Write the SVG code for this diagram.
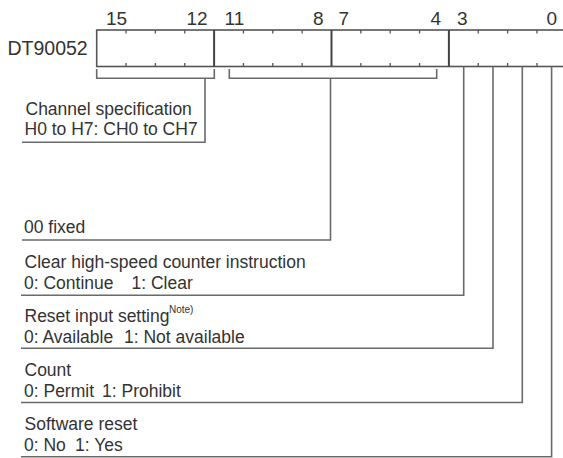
<svg xmlns="http://www.w3.org/2000/svg" width="563" height="458" viewBox="0 0 563 458">
<style>
text{font-family:"Liberation Sans",Arial,Helvetica,sans-serif;fill:#333}
.t{font-size:17.5px}
.b{font-size:19px}
.n{font-size:10px}
.box{fill:none;stroke:#555;stroke-width:1.6}
.div{stroke:#444;stroke-width:2}
.tick{stroke:#555;stroke-width:1.3}
.c{fill:none;stroke:#6a6a6a;stroke-width:1.6}
</style>
<rect width="563" height="458" fill="#fff"/>
<g id="register">
<text x="7.5" y="54.5" style="font-size:19.5px">DT90052</text>
<text class="b" x="106" y="25">15</text>
<text class="b" x="186.5" y="25">12</text>
<text class="b" x="224.5" y="25">11</text>
<text class="b" x="313" y="25">8</text>
<text class="b" x="338.5" y="25">7</text>
<text class="b" x="430.5" y="25">4</text>
<text class="b" x="457" y="25">3</text>
<text class="b" x="546.5" y="25">0</text>
<rect class="box" x="96.7" y="30" width="469.6" height="36.5"/>
<path class="div" d="M214.1,30V66.5M331.5,30V66.5M448.9,30V66.5"/>
<path class="tick" d="M126.05,30v3.5M155.4,30v3.5M184.75,30v3.5M243.45,30v3.5M272.8,30v3.5M302.15,30v3.5M360.85,30v3.5M390.2,30v3.5M419.55,30v3.5M478.25,30v3.5M507.6,30v3.5M536.95,30v3.5M126.05,66.5v-3.5M155.4,66.5v-3.5M184.75,66.5v-3.5M243.45,66.5v-3.5M272.8,66.5v-3.5M302.15,66.5v-3.5M360.85,66.5v-3.5M390.2,66.5v-3.5M419.55,66.5v-3.5M478.25,66.5v-3.5M507.6,66.5v-3.5M536.95,66.5v-3.5"/>
</g>
<g id="connectors">
<path class="c" d="M96.7,69V78.3H214.3V69"/>
<path class="c" d="M205,78.3V142.3H22"/>
<path class="c" d="M229.3,69V78.3H436.7V69"/>
<path class="c" d="M330.5,78.3V240H22"/>
<path class="c" d="M463.7,66.5V295.3H21"/>
<path class="c" d="M493,66.5V348.3H21"/>
<path class="c" d="M522.3,66.5V402.5H21"/>
<path class="c" d="M551.6,66.5V456.7H21"/>
</g>
<g id="channel">
<text class="t" x="25.5" y="115">Channel specification</text>
<text class="t" x="24.5" y="134.5">H0 to H7: CH0 to CH7</text>
</g>
<g id="fixed">
<text class="t" x="24" y="233">00 fixed</text>
</g>
<g id="clear">
<text class="t" x="24.5" y="268">Clear high-speed counter instruction</text>
<text class="t" y="289.3"><tspan x="24">0: Continue</tspan><tspan x="131.5">1: Clear</tspan></text>
</g>
<g id="reset-input">
<text class="t" x="24.5" y="321.7">Reset input setting</text>
<text class="n" x="169" y="313">Note)</text>
<text class="t" y="342.7"><tspan x="24">0: Available</tspan><tspan x="124">1: Not available</tspan></text>
</g>
<g id="count">
<text class="t" x="24.5" y="376">Count</text>
<text class="t" y="396.7"><tspan x="24">0: Permit</tspan><tspan x="102">1: Prohibit</tspan></text>
</g>
<g id="software-reset">
<text class="t" x="24.5" y="430">Software reset</text>
<text class="t" y="450.5"><tspan x="24">0: No</tspan><tspan x="75">1: Yes</tspan></text>
</g>
</svg>
